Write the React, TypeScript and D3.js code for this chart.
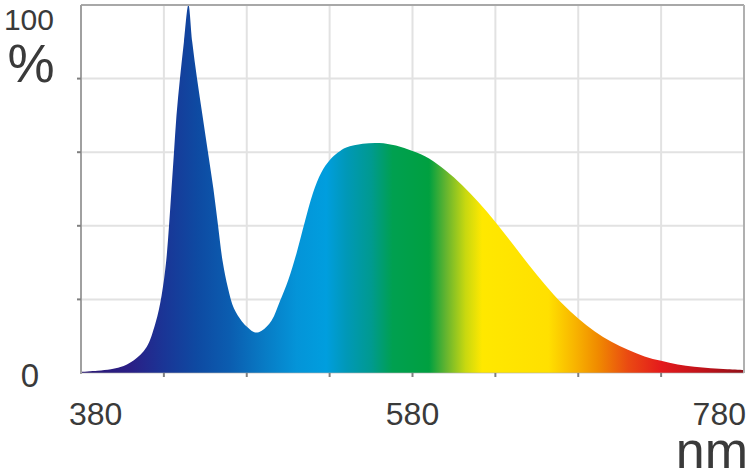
import React from "react";
import * as d3 from "d3";

const wavelengths = [380, 390, 398, 403.8, 411.7, 419.5, 424.9, 428.6, 431.3, 433.1, 434.6, 436.1, 437.6, 439.7, 442.1, 444.8, 447.1, 450.0, 453.3, 456.6, 459.9, 462.7, 465.4, 468.7, 472.3, 477.1, 480.8, 485, 489, 495, 500, 505, 510, 515, 520, 525, 530, 535, 540, 550, 560, 570, 580, 590, 600, 610, 620, 630, 640, 650, 660, 670, 680, 690, 700, 710, 720, 730, 740, 750, 760, 770, 780];
const intensity = [0.3, 0.6, 1.0, 1.6, 3.4, 7, 13.5, 21, 30, 40, 50, 60, 70, 80, 90, 100, 90, 80, 70, 60, 50, 40, 30.5, 23, 17.5, 14, 12.3, 11, 11.5, 14.3, 19.5, 25.2, 32.5, 41, 49, 54.5, 57.8, 59.9, 61.3, 62.3, 62.5, 61.8, 60.3, 58.3, 55, 51, 46.3, 41, 35.3, 29.5, 24, 19, 14.8, 11.3, 8.5, 6.3, 4.5, 3.3, 2.3, 1.7, 1.3, 1.0, 0.8];

const xTicks = [380, 430, 480, 530, 580, 630, 680, 730, 780];
const yTicks = [0, 20, 40, 60, 80, 100];
const xLabels = [380, 580, 780];

const gradientNm = [380, 410, 430, 450, 470, 490, 510, 528, 540, 555, 568, 590, 600, 612, 622, 662, 678, 692, 710, 730, 760, 780];
const gradientColors = ["#2b1874", "#2a1f86", "#1a3596", "#0e4aa2", "#0b5db0", "#087ac4", "#0494d8", "#009ede", "#0098b8", "#009a90", "#00a050", "#00a040", "#62b430", "#c8d810", "#ffe800", "#ffe000", "#f8b400", "#f08a00", "#ea4a12", "#e41a1c", "#b8121a", "#901018"];

const W = 749;
const H = 473;
const left = 81;
const right = 744;
const top = 5;
const bottom = 373;

export default function App() {
  const x = d3.scaleLinear().domain([380, 780]).range([left, right]);
  const y = d3.scaleLinear().domain([0, 100]).range([bottom, top]);
  const data = wavelengths.map((w, i) => ({ w, v: intensity[i] }));
  const area = d3
    .area<{ w: number; v: number }>()
    .x((d) => x(d.w))
    .y0(bottom)
    .y1((d) => y(d.v))
    .curve(d3.curveCatmullRom.alpha(0.5));

  const font = "'Liberation Sans', Arial, Helvetica, sans-serif";
  const txt = "#3a3a3a";

  return (
    <svg
      width={W}
      height={H}
      style={{ position: "absolute", left: 0, top: 0, background: "#fff" }}
    >
      <defs>
        <linearGradient id="spec" gradientUnits="userSpaceOnUse" x1={x(380)} x2={x(780)} y1={0} y2={0}>
          {gradientNm.map((nm, i) => (
            <stop key={nm} offset={(nm - 380) / 400} stopColor={gradientColors[i]} />
          ))}
        </linearGradient>
      </defs>
      {xTicks.slice(1, -1).map((t) => (
        <line key={"gx" + t} x1={x(t)} x2={x(t)} y1={top} y2={bottom} stroke="#e2e2e2" strokeWidth={2} />
      ))}
      {yTicks.slice(1, -1).map((t) => (
        <line key={"gy" + t} x1={left} x2={right} y1={y(t)} y2={y(t)} stroke="#e2e2e2" strokeWidth={2} />
      ))}
      <path d={area(data) || ""} fill="url(#spec)" />
      <line x1={left} x2={right} y1={top} y2={top} stroke="#a8a8a8" strokeWidth={2} />
      <line x1={right} x2={right} y1={top} y2={bottom} stroke="#b0b0b0" strokeWidth={2} />
      <line x1={left} x2={left} y1={top} y2={bottom + 1} stroke="#a0a0a0" strokeWidth={2} />
      <line x1={left} x2={right} y1={bottom} y2={bottom} stroke="#b0b0b0" strokeWidth={1} opacity={0.6} />
      {yTicks.slice(1, -1).map((t) => (
        <line key={"ty" + t} x1={left - 4} x2={left} y1={y(t)} y2={y(t)} stroke="#808080" strokeWidth={2} />
      ))}
      {xTicks.slice(1, -1).map((t) => (
        <line key={"tx" + t} x1={x(t)} x2={x(t)} y1={bottom} y2={bottom + 4} stroke="#808080" strokeWidth={2} />
      ))}
      <text x={54} y={30} textAnchor="end" fontFamily={font} fontSize={30} fill={txt}>100</text>
      <text x={31} y={82} textAnchor="middle" fontFamily={font} fontSize={53} fill={txt}>%</text>
      <text x={30} y={387} textAnchor="middle" fontFamily={font} fontSize={33} fill={txt}>0</text>
      {xLabels.map((t, i) => (
        <text
          key={"xl" + t}
          x={i === 0 ? x(t) - 12 : i === xLabels.length - 1 ? x(t) + 2 : x(t)}
          y={425}
          textAnchor={i === 0 ? "start" : i === xLabels.length - 1 ? "end" : "middle"}
          fontFamily={font}
          fontSize={32}
          fill={txt}
        >
          {t}
        </text>
      ))}
      <text x={748} y={468} textAnchor="end" fontFamily={font} fontSize={52} fill={txt}>nm</text>
    </svg>
  );
}
